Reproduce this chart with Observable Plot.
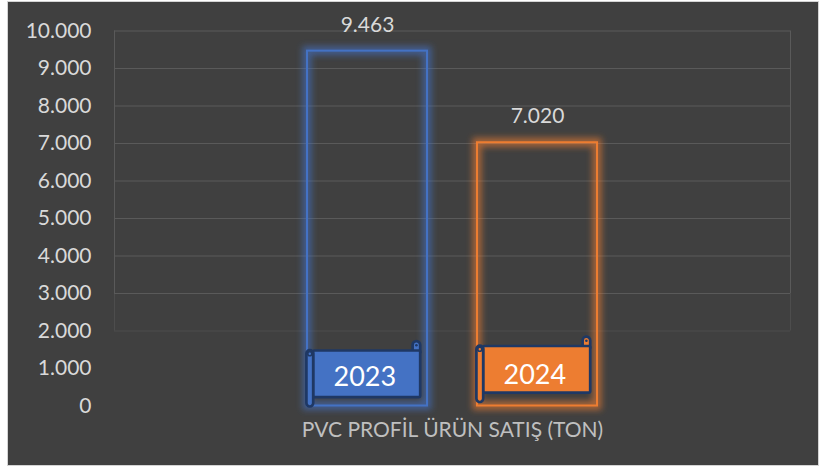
<!DOCTYPE html>
<html><head><meta charset="utf-8">
<script src="https://cdn.jsdelivr.net/npm/d3@7"></script>
<script src="https://cdn.jsdelivr.net/npm/@observablehq/plot@0.6"></script>
<style>
html,body{margin:0;padding:0;background:#fff;}
#chart{position:absolute;left:7px;top:1px;width:810px;height:463px;border:1px solid #d4d4d4;background:#404040;overflow:hidden;}
#chart svg{display:block;}
</style></head><body><div id="chart"></div>
<script>
// ---- data ----
const categories = ["2023", "2024"];
const values = [9463, 7020];
const valueLabels = ["9.463", "7.020"];
const yTicks = [0, 1000, 2000, 3000, 4000, 5000, 6000, 7000, 8000, 9000, 10000];
const gridTicks = [3000, 4000, 5000, 6000, 7000, 8000, 9000, 10000];
const fadedGridTicks = [2000];
const seriesColors = ["#4472C4", "#ED7D31"];
const axisTitle = "PVC PROFİL ÜRÜN SATIŞ (TON)";

// ---- styling ----
const gridColor = "#5a5a5a";
const textColor = "#d9d9d9";
const scrollStroke = "#1F3864";
const scrollLift = [0, 4.5];
const scrollTextDy = [-29, -31];

const trFormat = d3.formatLocale({decimal: ",", thousands: ".", grouping: [3], currency: ["", " ₺"]}).format(",d");

const rows = categories.map((c, i) => ({year: c, value: values[i], label: valueLabels[i], color: seriesColors[i]}));

function frameSides(index, scales, vals, dim) {
  const y = scales.y;
  const g = d3.create("svg:g").attr("stroke", gridColor).attr("fill", "none");
  for (const xp of [dim.marginLeft + 0.5, dim.width - dim.marginRight + 0.5]) {
    g.append("line").attr("x1", xp).attr("x2", xp).attr("y1", y(10000)).attr("y2", y(3000));
    g.append("line").attr("x1", xp).attr("x2", xp).attr("y1", y(3000)).attr("y2", y(2000)).attr("stroke-opacity", 0.5);
  }
  return g.node();
}

function scrollMark(index, scales, vals, dim) {
  const x = scales.x, y = scales.y;
  const bw = typeof x.bandwidth === "function" ? x.bandwidth() : 120;
  const g = d3.create("svg:g").attr("stroke", scrollStroke).attr("stroke-width", 2.7).attr("stroke-linejoin", "round");
  categories.forEach((c, i) => {
    const bx = x(c), by = y(0) - scrollLift[i];
    const s = g.append("g").attr("transform", `translate(${bx},${by})`).attr("fill", seriesColors[i]);
    const R = bw - 6.8;
    s.append("path").attr("d", `M${R},-53 L${R},-60.5 A3.8,3.8 0 0 0 ${R - 7.6},-60.5 L${R - 7.6},-53 Z`);
    s.append("circle").attr("cx", R - 3.8).attr("cy", -60.3).attr("r", 1.3).attr("fill", scrollStroke).attr("stroke", "none");
    s.append("rect").attr("x", 6).attr("y", -55).attr("width", R - 6).attr("height", 46.6).attr("rx", 1.5);
    s.append("rect").attr("x", -0.6).attr("y", -55.3).attr("width", 6.8).attr("height", 56.3).attr("rx", 3.4);
    s.append("circle").attr("cx", 2.8).attr("cy", -51.8).attr("r", 2).attr("fill", "none").attr("stroke-width", 1.6);
  });
  return g.node();
}

const chart = Plot.plot({
  width: 810,
  height: 463,
  marginLeft: 106,
  marginRight: 28,
  marginTop: 28.5,
  marginBottom: 59.5,
  style: {background: "transparent", color: textColor, fontFamily: "Lato, 'Open Sans', sans-serif"},
  x: {type: "band", domain: categories, paddingInner: 0.296, paddingOuter: 1.13, axis: null},
  y: {domain: [0, 10000], axis: null},
  marks: [
    Plot.ruleY(gridTicks, {stroke: gridColor, strokeWidth: 1}),
    Plot.ruleY(fadedGridTicks, {stroke: gridColor, strokeWidth: 1, strokeOpacity: 0.5}),
    frameSides,
    Plot.axisY(yTicks, {tickSize: 0, tickPadding: 23, tickFormat: trFormat, fontSize: 21, label: null, fill: textColor}),
    Plot.barY(rows, {x: "year", y: "value", fill: "none", stroke: "color", strokeWidth: 9, strokeOpacity: 0.6, className: "barglow"}),
    Plot.barY(rows, {x: "year", y: "value", fill: "none", stroke: "color", strokeWidth: 2}),
    Plot.text(rows, {x: "year", y: "value", text: "label", dy: -26, fontSize: 21, fill: textColor}),
    scrollMark,
    ...categories.map((c, i) => Plot.text([c], {x: d => d, y: () => 0, text: d => d, dy: scrollTextDy[i], dx: -2.7, fontSize: 27, fill: "#ffffff"})),
    Plot.text([axisTitle], {frameAnchor: "bottom", dy: 31, fontSize: 21, fill: "#bfbfbf"})
  ]
});

// soft glow filter for the bar outlines
const svgSel = d3.select(chart);
const defs = svgSel.insert("defs", ":first-child");
defs.append("filter").attr("id", "barGlowFilter").attr("x", "-20%").attr("y", "-20%").attr("width", "140%").attr("height", "140%")
  .append("feGaussianBlur").attr("stdDeviation", 3);
svgSel.selectAll(".barglow").attr("filter", "url(#barGlowFilter)");

document.getElementById("chart").appendChild(chart);
</script>
</body></html>
